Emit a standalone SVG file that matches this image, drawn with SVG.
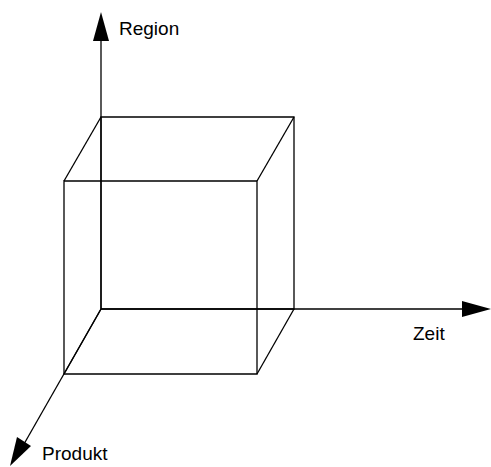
<svg xmlns="http://www.w3.org/2000/svg" width="491" height="467" viewBox="0 0 491 467">
<style>
.ln{stroke:#000;stroke-width:1.3;fill:none}
.ax{stroke:#000;stroke-width:1.3;fill:none}
.hd{fill:#000;stroke:none}
text{font-family:"Liberation Sans",Arial,sans-serif;font-size:19px;fill:#000}
</style>
<rect width="491" height="467" fill="#fff"/>
<g id="axes">
<line class="ax" x1="101" y1="309" x2="101" y2="38"/>
<polygon class="hd" points="101,12 93,41 109,41"/>
<line class="ax" x1="101" y1="309" x2="466" y2="309"/>
<polygon class="hd" points="491,309 462,301 462,317"/>
<line class="ax" x1="101" y1="309" x2="24" y2="444"/>
<polygon class="hd" points="10,466 17,437 31,446"/>
</g>
<g id="cube">
<polygon class="ln" points="101,117 294,117 294,309 101,309"/>
<polygon class="ln" points="64,181 257,181 257,374 64,374"/>
<line class="ln" x1="101" y1="117" x2="64" y2="181"/>
<line class="ln" x1="294" y1="117" x2="257" y2="181"/>
<line class="ln" x1="294" y1="309" x2="257" y2="374"/>
<line class="ln" x1="101" y1="309" x2="64" y2="374"/>
</g>
<g id="labels">
<text x="119" y="35">Region</text>
<text x="413" y="340">Zeit</text>
<text x="42" y="460">Produkt</text>
</g>
</svg>
